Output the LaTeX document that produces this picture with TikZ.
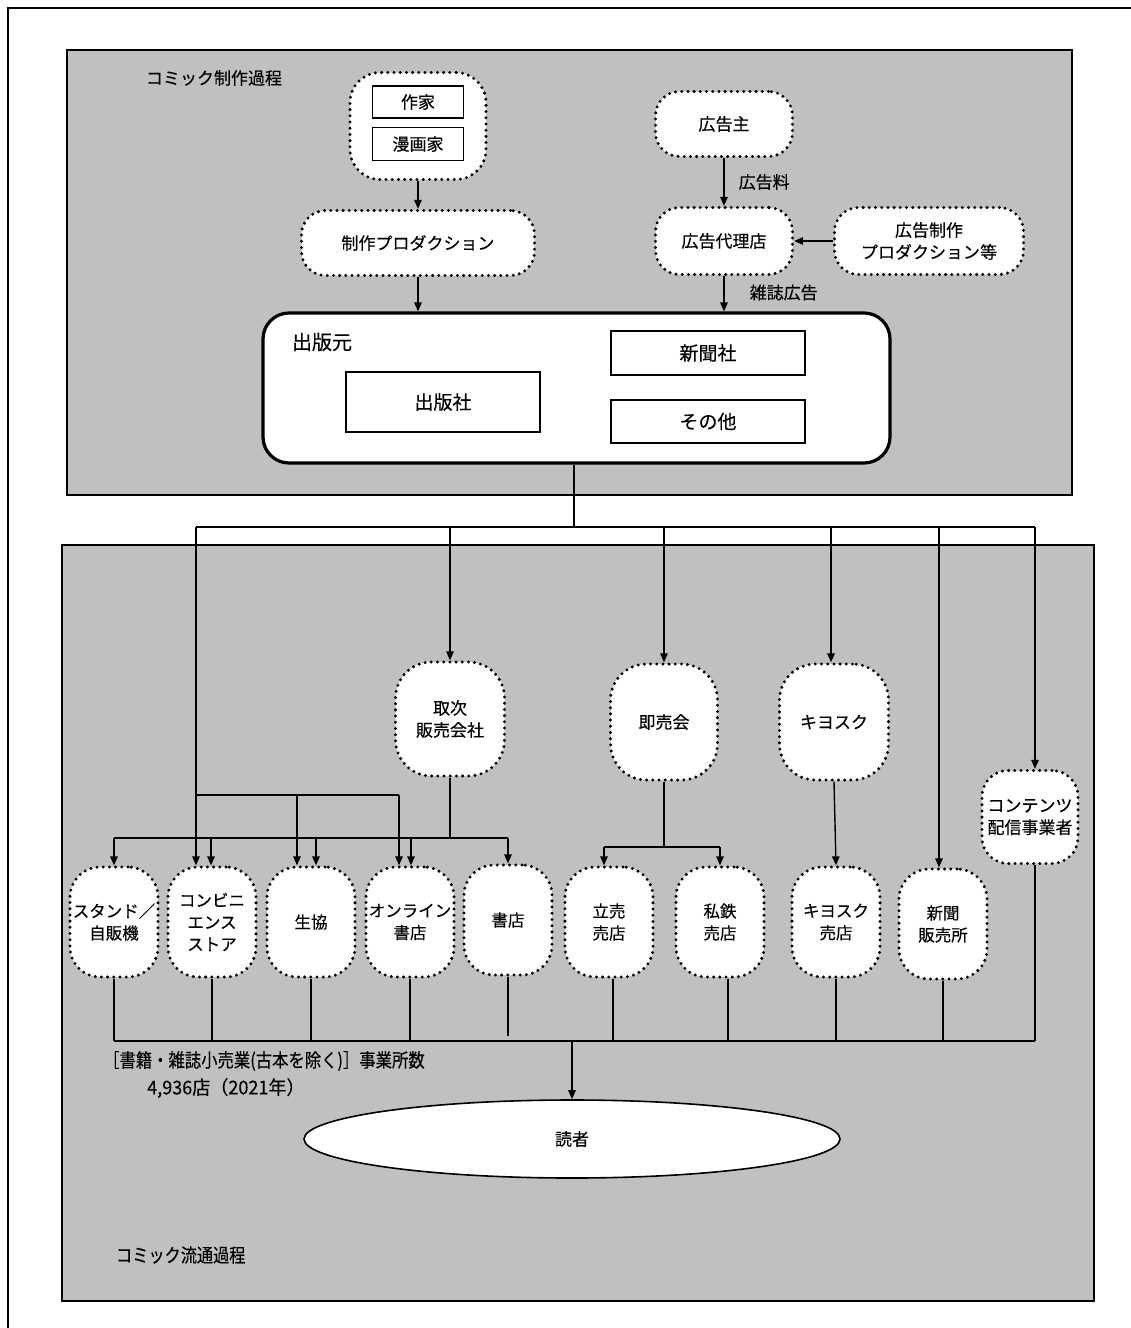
\documentclass[tikz,border=0pt]{standalone}
\usepackage{fontspec}
\usepackage{graphicx}
\setmainfont{Noto Sans CJK JP}[FakeBold=0.35]
\usetikzlibrary{arrows.meta,shapes.geometric,calc}
\definecolor{panel}{RGB}{192,192,192}
\tikzset{
  dotbox/.style={draw, line width=3.3pt, dash pattern=on 0pt off 6.2pt, line cap=round,
    fill=white, rounded corners=24pt, align=center, inner sep=0pt,
    font=\fontsize{17}{22}\selectfont},
  tallbox/.style={dotbox, minimum width=88pt, minimum height=110pt, rounded corners=30pt,
    font=\fontsize{16.5}{22}\selectfont},
  plainbox/.style={draw, line width=1.3pt, fill=white, inner sep=0pt, align=center,
    font=\fontsize{17}{22}\selectfont},
  pubbox/.style={draw, line width=1.3pt, fill=white, inner sep=0pt, align=center,
    minimum width=194pt, font=\fontsize{19}{22}\selectfont},
  panelbox/.style={draw, line width=1.8pt, fill=panel},
  conn/.style={line width=1.4pt},
  arr/.style={line width=1.4pt, -{Triangle[length=9pt,width=7.5pt]}},
  lbl/.style={inner sep=0pt, font=\fontsize{17}{22}\selectfont},
  note/.style={inner sep=0pt, anchor=west, font=\fontsize{19}{22}\selectfont},
}
\begin{document}
\begin{tikzpicture}[x=1pt,y=-1pt]
\useasboundingbox (0,0) rectangle (1131,1328);
\clip (0,0) rectangle (1131,1328);
\fill[white] (0,0) rectangle (1131,1328);
% outer frame
\draw[line width=1.4pt] (8,1340) -- (8,8) -- (1140,8);
% panels
\draw[panelbox] (67,50) rectangle (1072,495);
\draw[panelbox] (62,545) rectangle (1094,1301);

% ---------- top part ----------
\node[inner sep=0pt, font=\fontsize{17}{20}\selectfont] (ttl1) at (214,78) {コミック制作過程};

\node[dotbox, minimum width=136pt, minimum height=107pt, rounded corners=30pt] (grp) at (418,126) {};
\node[plainbox, minimum width=91pt, minimum height=32pt] (sakka) at (418,102) {作家};
\node[plainbox, minimum width=91pt, minimum height=33pt] (manga) at (418,144) {漫画家};

\node[dotbox, minimum width=233pt, minimum height=65pt] (prod) at (418,243) {制作プロダクション};

\node[dotbox, minimum width=137pt, minimum height=65pt] (adv) at (724,124) {広告主};
\node[dotbox, minimum width=137pt, minimum height=67pt] (agency) at (724,241) {広告代理店};
\node[dotbox, minimum width=189pt, minimum height=67pt] (advprod) at (929,241) {広告制作\\プロダクション等};

\node[draw, line width=3.2pt, fill=white, rounded corners=26pt, minimum width=627pt,
      minimum height=150pt, inner sep=0pt] (pub) at (576.5,388) {};
\node[inner sep=0pt, font=\fontsize{20}{24}\selectfont] (publbl) at (322,342) {出版元};
\node[pubbox, minimum height=60pt] (shuppansha) at (443,402) {出版社};
\node[pubbox, minimum height=44pt] (shinbunsha) at (708,353) {新聞社};
\node[pubbox, minimum height=43pt] (sonota) at (708,421.5) {その他};

\draw[arr] (grp) -- (prod);
\draw[arr] (prod.south) -- (prod.south |- pub.north);
\draw[arr] (adv) -- (agency) node[lbl, midway, right=14pt] (fee) {広告料};
\draw[arr] (advprod) -- (agency);
\draw[arr] (agency.south) -- (agency.south |- pub.north)
   node[lbl, pos=0.05, anchor=north west, xshift=25pt, yshift=-6pt] (mag) {雑誌広告};

% ---------- middle distribution ----------
\coordinate (pubout) at (pub.south -| 574,0);
\coordinate (busL) at (196,527);
\coordinate (busR) at (1035,527);
\draw[conn] (pubout) -- (574,527);
\draw[conn] (busL) -- (busR);

\node[dotbox, minimum width=109pt, minimum height=114pt, rounded corners=36pt] (tori) at (450,719) {取次\\販売会社};
\node[dotbox, minimum width=107pt, minimum height=116pt, rounded corners=36pt] (soku) at (664,722) {即売会};
\node[dotbox, minimum width=109pt, minimum height=116pt, rounded corners=36pt] (kiosk) at (834,722) {キヨスク};
\node[dotbox, minimum width=96pt, minimum height=93pt, rounded corners=26pt] (contents) at (1030,817) {コンテンツ\\配信事業者};

\node[tallbox] (stand) at (114,922) {スタンド／\\自販機};
\node[tallbox] (conv) at (212,922) {コンビニ\\エンス\\ストア};
\node[tallbox] (coop) at (311,922) {生協};
\node[tallbox] (online) at (410,922) {オンライン\\書店};
\node[tallbox] (shoten) at (508,920) {書店};
\node[tallbox] (tachi) at (609,922) {立売\\売店};
\node[tallbox] (shitetsu) at (720,922) {私鉄\\売店};
\node[tallbox] (kshop) at (836,922) {キヨスク\\売店};
\node[tallbox] (shinbun) at (943,924) {新聞\\販売所};

% from main bus
\draw[arr] (450,527) -- (tori.north);
\draw[arr] (664,527) -- (soku.north);
\draw[arr] (831,527) -- (831,0 |- kiosk.north);
\draw[arr] (939,527) -- (939,0 |- shinbun.north);
\draw[arr] (busR) -- (1035,0 |- contents.north);
\draw[arr] (busL) -- (196,0 |- conv.north);

% secondary bus from left branch
\coordinate (b2L) at (196,795);
\coordinate (b2R) at (399,795);
\draw[conn] (b2L) -- (b2R);
\draw[arr] (297,795) -- (297,0 |- coop.north);
\draw[arr] (b2R) -- (399,0 |- online.north);

% toritsugi bus
\coordinate (b3) at (450,838);
\draw[conn] (tori.south) -- (b3);
\draw[conn] (114,838) -- (508,838);
\draw[arr] (114,838) -- (stand.north);
\draw[arr] (211,838) -- (211,0 |- conv.north);
\draw[arr] (316,838) -- (316,0 |- coop.north);
\draw[arr] (411,838) -- (411,0 |- online.north);
\draw[arr] (508,838) -- (shoten.north);

% sokubai bus
\coordinate (b4) at (664,847);
\draw[conn] (soku.south) -- (b4);
\draw[conn] (604,847) -- (720,847);
\draw[arr] (604,847) -- (604,0 |- tachi.north);
\draw[arr] (720,847) -- (shitetsu.north);

% kiosk to kiosk shop
\draw[arr] (kiosk.south) -- (kshop.north);

% ---------- bottom collection ----------
\coordinate (b5L) at (114,1041);
\coordinate (b5R) at (1035,1041);
\draw[conn] (b5L) -- (b5R);
\draw[conn] (stand.south) -- (b5L);
\draw[conn] (conv.south) -- (conv.south |- b5L);
\draw[conn] (coop.south) -- (coop.south |- b5L);
\draw[conn] (online.south) -- (online.south |- b5L);
\draw[conn] (shoten.south) -- ($(shoten.south |- b5L)+(0,-5)$);
\draw[conn] (613,0 |- tachi.south) -- (613,1041);
\draw[conn] (728,0 |- shitetsu.south) -- (728,1041);
\draw[conn] (kshop.south) -- (kshop.south |- b5L);
\draw[conn] (shinbun.south) -- (shinbun.south |- b5L);
\draw[conn] (1035,0 |- contents.south) -- (b5R);

\node[draw, line width=1.6pt, fill=white, ellipse, minimum width=536pt, minimum height=78pt,
      inner sep=0pt, font=\fontsize{17}{22}\selectfont] (reader) at (572,1139) {読者};
\draw[arr] (572,1041) -- (reader.north);

\node[note] (note1) at (103,1061)
   {\scalebox{0.86}[1]{［書籍・雑誌小売業(古本を除く)］事業所数}};
\node[note] (note2) at (147,1088)
   {\scalebox{0.95}[1]{4,936店（2021年）}};
\node[note] (ttl2) at (116,1255)
   {\scalebox{0.85}[1]{コミック流通過程}};
\end{tikzpicture}
\end{document}
